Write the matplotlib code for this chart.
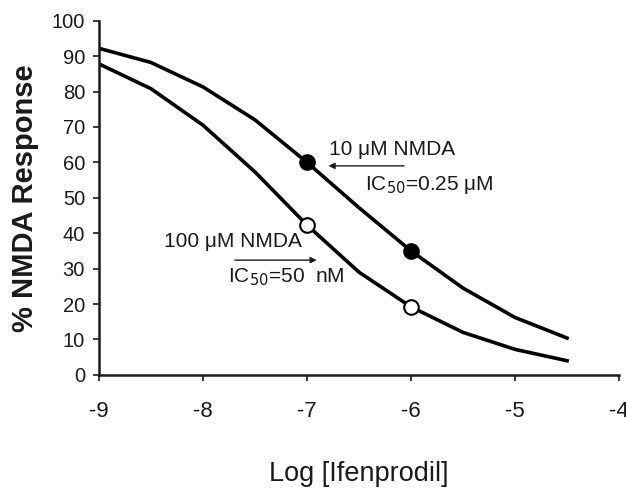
import matplotlib
matplotlib.use("Agg")
import matplotlib.pyplot as plt

# Data (log concentration vs % response)
log_conc = [-9.0, -8.5, -8.0, -7.5, -7.0, -6.5, -6.0, -5.5, -5.0, -4.5]
resp_10uM = [92.2, 88.2, 81.3, 72.0, 60.0, 47.2, 35.0, 24.5, 16.2, 10.4]
resp_100uM = [87.8, 80.8, 70.5, 57.3, 42.3, 29.0, 19.2, 12.0, 7.2, 4.0]

pts_x = [-7.0, -6.0]
pts_10uM = [60.0, 35.0]
pts_100uM = [42.3, 19.2]

xticks = [-9, -8, -7, -6, -5, -4]
yticks = [0, 10, 20, 30, 40, 50, 60, 70, 80, 90, 100]

plt.rcParams['font.family'] = ['Liberation Sans', 'DejaVu Sans']
txt = '#1a1a1a'

fig = plt.figure(figsize=(6.26, 4.92), dpi=100)
ax = fig.add_axes([0.158, 0.238, 0.831, 0.72])

ax.plot(log_conc, resp_10uM, color='black', lw=2.6, zorder=2)
ax.plot(log_conc, resp_100uM, color='black', lw=2.6, zorder=2)
ax.plot(pts_x, pts_10uM, 'o', ms=10.5, mfc='black', mec='black', mew=1.5, zorder=3)
ax.plot(pts_x, pts_100uM, 'o', ms=10.5, mfc='white', mec='black', mew=1.5, zorder=3)

ax.set_xlim(-9, -4)
ax.set_ylim(0, 100)
ax.set_xticks(xticks)
ax.set_yticks(yticks)
ax.set_xticklabels([str(t) for t in xticks])
ax.set_yticklabels([str(t) for t in yticks])

for s in ['top', 'right']:
    ax.spines[s].set_visible(False)
for s in ['left', 'bottom']:
    ax.spines[s].set_linewidth(1.8)
    ax.spines[s].set_color(txt)
ax.tick_params(axis='both', direction='out', length=4, width=1.2, colors=txt)
ax.tick_params(axis='x', pad=15, labelsize=16)
ax.tick_params(axis='y', pad=6, labelsize=14.5)

ax.set_xlabel('Log [Ifenprodil]', fontsize=19.5, color=txt, labelpad=28)
ax.set_ylabel('% NMDA Response', fontsize=21, fontweight='bold', color=txt, labelpad=9)

# annotations
ax.text(-6.79, 63.5, '10 \u03bcM NMDA', fontsize=15, color=txt, va='center', ha='left')
ax.annotate('', xy=(-6.82, 59.0), xytext=(-6.04, 59.0),
            arrowprops=dict(arrowstyle='-|>', color=txt, lw=1.0, mutation_scale=9))
ax.text(-6.44, 53.5, 'IC$_{50}$=0.25 \u03bcM', fontsize=15, color=txt, va='center', ha='left')

ax.text(-8.37, 37.7, '100 \u03bcM NMDA', fontsize=15, color=txt, va='center', ha='left')
ax.annotate('', xy=(-6.88, 32.4), xytext=(-7.72, 32.4),
            arrowprops=dict(arrowstyle='-|>', color=txt, lw=1.0, mutation_scale=9))
ax.text(-7.76, 27.5, 'IC$_{50}$=50  nM', fontsize=15, color=txt, va='center', ha='left')

fig.savefig('out.png', dpi=100)
